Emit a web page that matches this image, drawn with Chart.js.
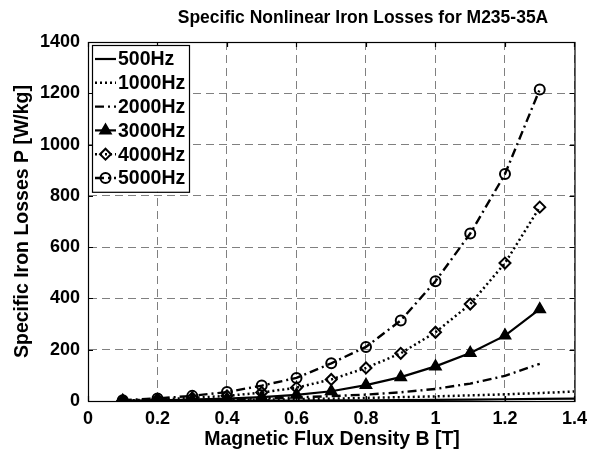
<!DOCTYPE html>
<html>
<head>
<meta charset="utf-8">
<script src="https://cdn.jsdelivr.net/npm/chart.js@4.4.0/dist/chart.umd.min.js"></script>
<style>
html,body{margin:0;padding:0;background:#fff;}
#wrap{width:594px;height:451px;}
</style>
</head>
<body>
<div id="wrap"><canvas id="c" width="594" height="451"></canvas></div>
<script>
const titleText = 'Specific Nonlinear Iron Losses for M235-35A';
const xTitle = 'Magnetic Flux Density B [T]';
const yTitle = 'Specific Iron Losses P [W/kg]';
const xTicks = [0, 0.2, 0.4, 0.6, 0.8, 1, 1.2, 1.4];
const yTicks = [0, 200, 400, 600, 800, 1000, 1200, 1400];

const seriesNames = ['500Hz', '1000Hz', '2000Hz', '3000Hz', '4000Hz', '5000Hz'];
const bLong = [0.1, 0.2, 0.3, 0.4, 0.5, 0.6, 0.7, 0.8, 0.9, 1.0, 1.1, 1.2, 1.3, 1.4];
const bShort = [0.1, 0.2, 0.3, 0.4, 0.5, 0.6, 0.7, 0.8, 0.9, 1.0, 1.1, 1.2, 1.3];
const p500 = [0.1, 0.3, 0.5, 0.8, 1.2, 1.7, 2.3, 3, 3.8, 4.7, 5.7, 6.8, 8, 9.5];
const p1000 = [0.3, 1, 2, 3.5, 5, 7, 9, 12, 15, 18, 22, 26, 31, 37];
const p2000 = [0.5, 2, 4, 7, 10, 14, 19, 25, 34, 47, 68, 98, 145];
const p3000 = [0.7, 2.5, 5, 9, 15, 24, 38, 62, 93, 135, 187, 255, 358];
const p4000 = [1.5, 6, 12, 20, 33, 52, 84, 129, 186, 268, 378, 538, 756];
const p5000 = [3, 10, 20, 35, 60, 90, 147, 211, 314, 467, 653, 885, 1215];

function pts(xs, ys){ return xs.map((x,i)=>({x:x, y:ys[i]})); }

const styles = [
  {dash: [], width: 2.2, point: false},
  {dash: [2, 3], width: 2.5, point: false},
  {dash: [9, 4, 2, 4], width: 2.4, point: false},
  {dash: [], width: 2.2, point: 'triangle', r: 6, fill: '#000'},
  {dash: [2, 3], width: 2.5, point: 'rectRot', r: 5.5, fill: 'rgba(0,0,0,0)'},
  {dash: [9, 4, 2, 4], width: 2.4, point: 'circle', r: 5, fill: 'rgba(0,0,0,0)'}
];
const seriesData = [pts(bLong,p500), pts(bLong,p1000), pts(bShort,p2000), pts(bShort,p3000), pts(bShort,p4000), pts(bShort,p5000)];

const datasets = seriesNames.map((n,i)=>{
  const s = styles[i];
  return {
    label: n, data: seriesData[i],
    borderColor: '#000', borderWidth: s.width, borderDash: s.dash,
    backgroundColor: s.fill || '#000',
    pointStyle: s.point || 'circle', pointRadius: s.point ? s.r : 0,
    pointBorderColor: '#000', pointBorderWidth: 2, pointBackgroundColor: s.fill || '#000',
    pointHoverRadius: 0, tension: 0, fill: false
  };
});

const FONT = '"Liberation Sans", Arial, sans-serif';

const boxPlugin = {
  id: 'boxPlugin',
  afterDraw(chart){
    const {ctx, chartArea: a} = chart;
    ctx.save();
    ctx.strokeStyle = '#000'; ctx.lineWidth = 1.2; ctx.setLineDash([]);
    ctx.strokeRect(a.left+0.5, a.top+0.5, a.right-a.left, a.bottom-a.top);
    const xs = chart.scales.x, ys = chart.scales.y;
    ctx.beginPath();
    xTicks.forEach(v=>{ const px = Math.round(xs.getPixelForValue(v))+0.5;
      ctx.moveTo(px, a.bottom); ctx.lineTo(px, a.bottom-5);
      ctx.moveTo(px, a.top); ctx.lineTo(px, a.top+5); });
    yTicks.forEach(v=>{ const py = Math.round(ys.getPixelForValue(v))+0.5;
      ctx.moveTo(a.left, py); ctx.lineTo(a.left+5, py);
      ctx.moveTo(a.right, py); ctx.lineTo(a.right-5, py); });
    ctx.stroke();
    // titles
    ctx.fillStyle = '#000';
    ctx.textAlign = 'center'; ctx.textBaseline = 'middle';
    ctx.font = 'bold 17.5px ' + FONT;
    ctx.fillText(titleText, 363, 18);
    ctx.font = 'bold 19.5px ' + FONT;
    ctx.fillText(xTitle, 332, 440);
    ctx.save();
    ctx.translate(23, (a.top + a.bottom) / 2); ctx.rotate(-Math.PI/2);
    ctx.fillText(yTitle, 0, 0);
    ctx.restore();
    // legend
    const lx = a.left + 4, ly = a.top + 3, lw = 97, rowH = 23.8, lh = rowH*6 + 4;
    ctx.fillStyle = '#fff';
    ctx.fillRect(lx, ly, lw, lh);
    ctx.strokeRect(lx+0.5, ly+0.5, lw, lh);
    ctx.font = 'bold 19.5px ' + FONT;
    ctx.textBaseline = 'middle'; ctx.textAlign = 'left';
    seriesNames.forEach((n,i)=>{
      const s = styles[i];
      const cy = ly + 14 + i*rowH;
      ctx.save();
      ctx.strokeStyle = '#000'; ctx.lineWidth = s.width; ctx.setLineDash(s.dash);
      ctx.beginPath(); ctx.moveTo(lx+3, cy); ctx.lineTo(lx+24, cy); ctx.stroke();
      ctx.restore();
      if (s.point) {
        ctx.save(); ctx.setLineDash([]);
        ctx.lineWidth = 2; ctx.strokeStyle = '#000'; ctx.fillStyle = s.fill;
        Chart.helpers.drawPoint(ctx, {pointStyle: s.point, radius: s.r, borderWidth: 2, rotation: 0}, lx+13.5, cy);
        ctx.restore();
      }
      ctx.fillStyle = '#000';
      ctx.fillText(n, lx+26, cy+1);
    });
    ctx.restore();
  }
};

new Chart(document.getElementById('c'), {
  type: 'line',
  data: {datasets: datasets},
  options: {
    responsive: false, animation: false, devicePixelRatio: 1,
    layout: {padding: {left: 0, right: 0, top: 42, bottom: 0}},
    plugins: {
      legend: {display: false}, tooltip: {enabled: false}, title: {display: false}
    },
    scales: {
      x: {type: 'linear', min: 0, max: 1.4,
        afterBuildTicks(s){ s.ticks = xTicks.map(v=>({value:v})); },
        afterFit(s){ s.height = 50; },
        ticks: {color: '#000', font: {family: FONT, size: 18, weight: 'bold'}, padding: 7,
          callback: v => String(v)},
        grid: {color: '#808080', lineWidth: 1, drawTicks: false},
        border: {display: true, color: '#000', width: 1, dash: [8, 5]}
      },
      y: {type: 'linear', min: 0, max: 1400,
        afterBuildTicks(s){ s.ticks = yTicks.map(v=>({value:v})); },
        afterFit(s){ s.width = 88; },
        ticks: {color: '#000', font: {family: FONT, size: 18, weight: 'bold'}, padding: 8,
          callback: v => String(v)},
        grid: {color: '#808080', lineWidth: 1, drawTicks: false},
        border: {display: true, color: '#000', width: 1, dash: [8, 5]}
      }
    }
  },
  plugins: [boxPlugin]
});
</script>
</body>
</html>
